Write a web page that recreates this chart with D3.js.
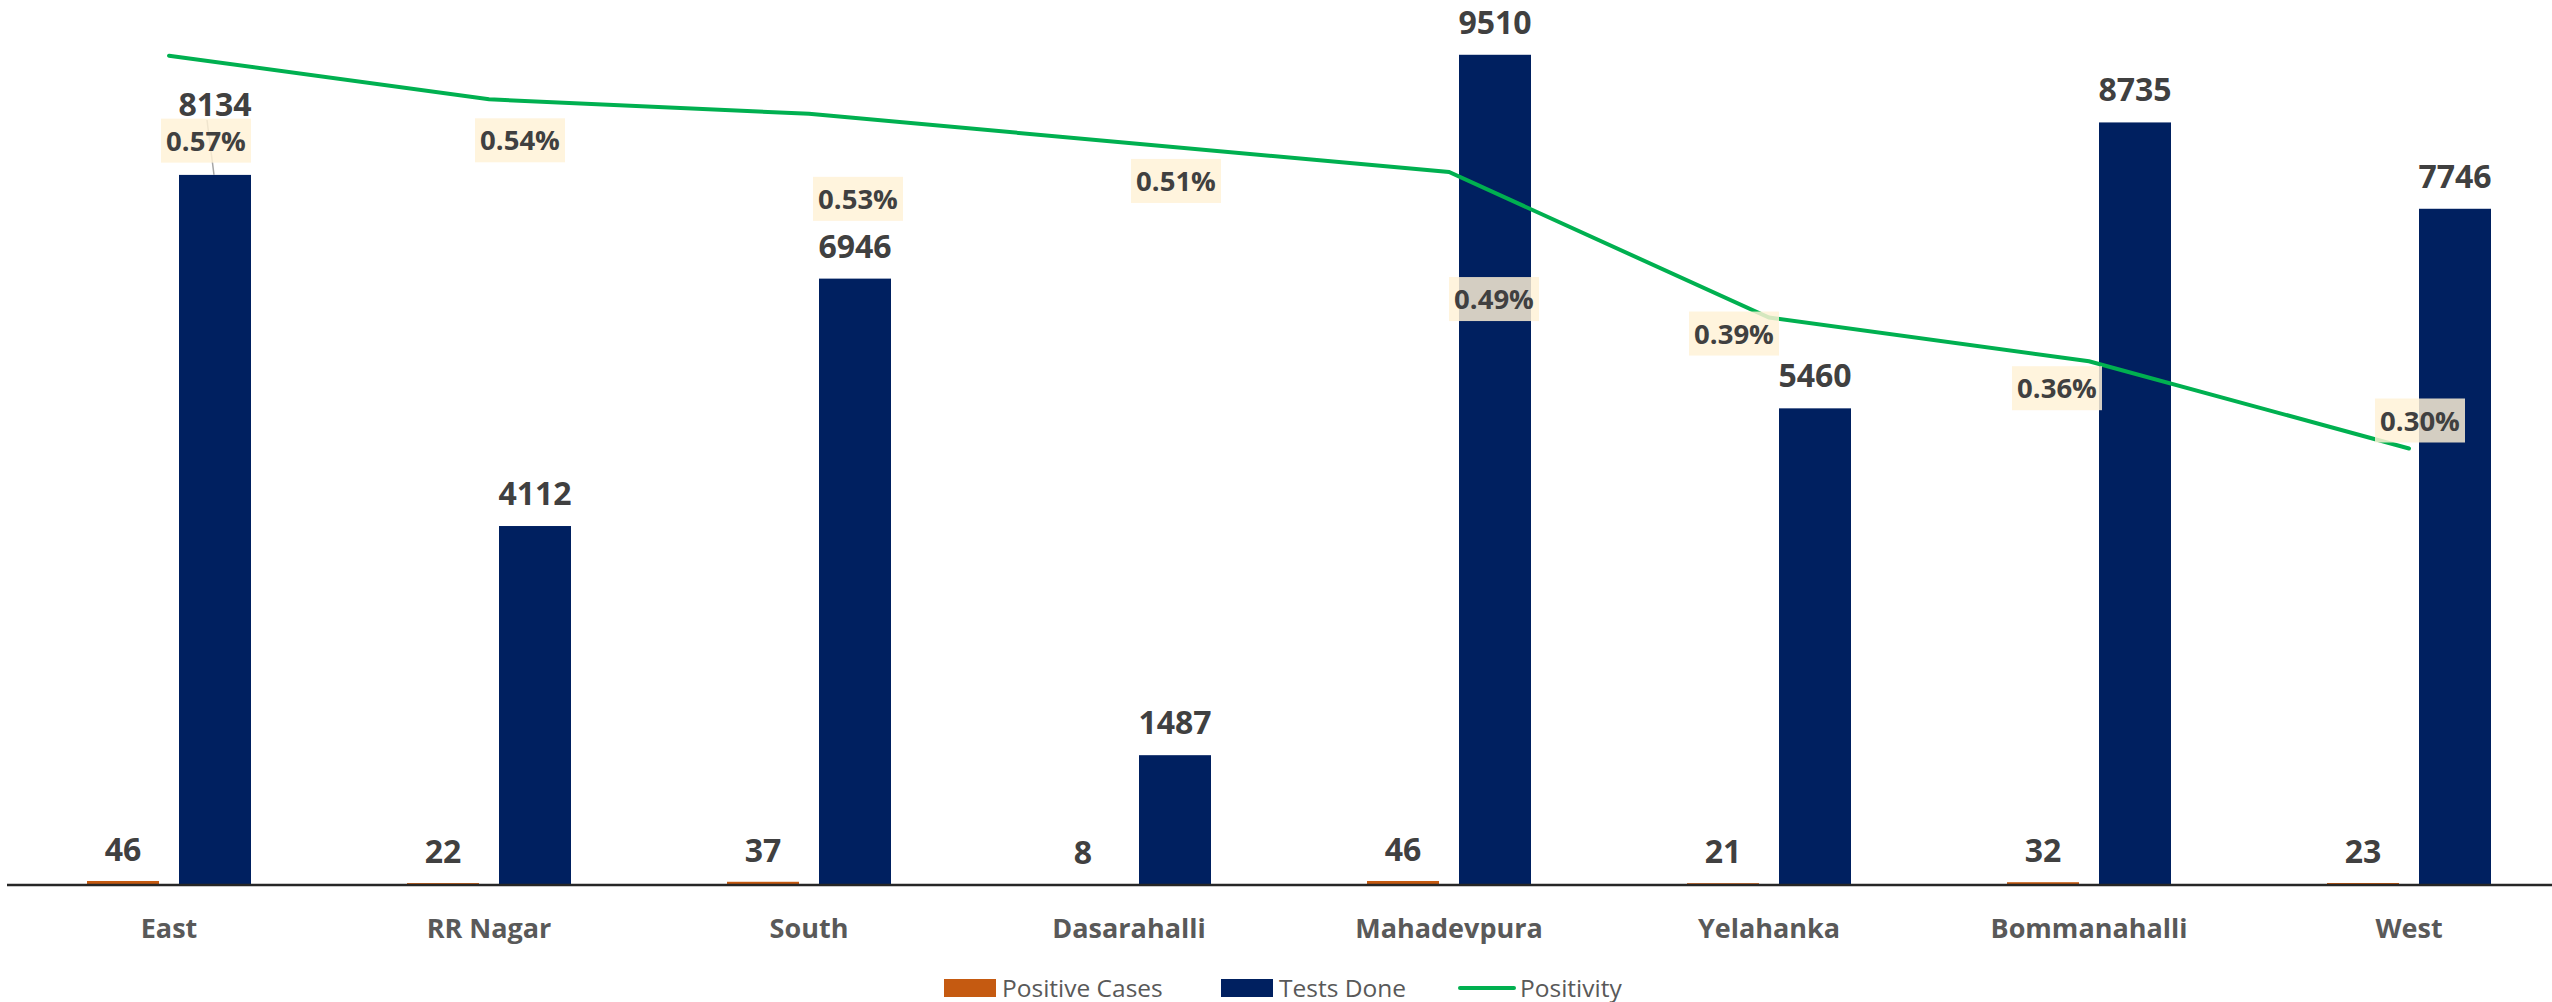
<!doctype html>
<html lang="en">
<head>
  <meta charset="utf-8">
  <title>Positivity by zone</title>
  <script src="https://d3js.org/d3.v7.min.js"></script>
  <style>
    body { margin: 0; background: #fff; }
    text { font-family: "Open Sans", "Noto Sans", sans-serif; }
  </style>
</head>
<body>
  <div id='my_chart'></div>
<script>
  var zones = ['East', 'RR Nagar', 'South', 'Dasarahalli', 'Mahadevpura', 'Yelahanka', 'Bommanahalli', 'West'];
  var positive_cases = [46, 22, 37, 8, 46, 21, 32, 23];
  var tests_done = [8134, 4112, 6946, 1487, 9510, 5460, 8735, 7746];
  var positivity = [0.57, 0.54, 0.53, 0.51, 0.49, 0.39, 0.36, 0.30]; // percent
  var series_names = ['Positive Cases', 'Tests Done', 'Positivity'];

  var width = 2552;
  var height = 1002;
  var base_y = 885;
  var top_y = 12;
  var colors = {pos: '#C55A11', tests: '#002060', line: '#00B050'};

  // where each positivity box sits, relative to its line point
  var pct_offsets = [[37, 85], [31, 41], [49, 85], [47, 38], [45, 127], [-35, 16], [-32, 27], [11, -28]];

  var x = d3.scaleBand().domain(zones).range([9, 2569]);
  var sub = d3.scaleBand().domain(['pos', 'tests']).range([-82, 82]).paddingInner(20 / 92);
  var y = d3.scaleLinear().domain([0, 10000]).range([base_y, top_y]);
  var y2 = d3.scaleLinear().domain([0, 0.6]).range([base_y, top_y]);
  var cx = d => x(d) + x.bandwidth() / 2;

  var chart = d3.select('#my_chart').append('svg')
    .attr('width', width)
    .attr('height', height)
    .style('background', '#fff');

  var rows = zones.map((z, i) => ({zone: z, pos: positive_cases[i], tests: tests_done[i], pct: positivity[i], i: i}));

  // bars
  var groups = chart.append('g').selectAll('g')
    .data(rows)
    .enter().append('g')
      .attr('transform', d => 'translate(' + cx(d.zone) + ',0)');

  groups.append('rect')
    .attr('x', sub('pos'))
    .attr('width', sub.bandwidth())
    .attr('y', d => y(d.pos))
    .attr('height', d => base_y - y(d.pos))
    .style('fill', colors.pos);

  groups.append('rect')
    .attr('x', sub('tests'))
    .attr('width', sub.bandwidth())
    .attr('y', d => y(d.tests))
    .attr('height', d => base_y - y(d.tests))
    .style('fill', colors.tests);

  // value labels
  groups.append('text')
    .attr('x', sub('pos') + sub.bandwidth() / 2)
    .attr('y', d => y(d.pos) - 20)
    .attr('text-anchor', 'middle')
    .style('font-size', '32px').style('font-weight', 700).style('fill', '#404040')
    .text(d => d.pos);

  // East tests label was dragged up in the original, with a leader line
  groups.filter(d => d.i == 0).append('line')
    .attr('x1', sub('tests') + 28).attr('y1', 120)
    .attr('x2', sub('tests') + 35).attr('y2', d => y(d.tests))
    .style('stroke', '#A6A6A6').style('stroke-width', 1.5);

  groups.append('text')
    .attr('x', sub('tests') + sub.bandwidth() / 2)
    .attr('y', d => d.i == 0 ? 116 : y(d.tests) - 21)
    .attr('text-anchor', 'middle')
    .style('font-size', '32px').style('font-weight', 700).style('fill', '#404040')
    .text(d => d.tests);

  // axis line
  chart.append('g')
    .attr('transform', 'translate(0,' + base_y + ')')
    .call(d3.axisBottom(x).tickSize(0).tickPadding(0))
    .call(g => g.select('.domain').attr('d', 'M7,0H2552').style('stroke', '#262626').style('stroke-width', 2.5))
    .call(g => g.selectAll('text')
      .attr('dy', 0).attr('y', 53)
      .style('font-family', '"Open Sans", sans-serif')
      .style('font-size', '27px').style('font-weight', 700).style('fill', '#595959'));

  // positivity line
  var line = d3.line().x(d => cx(d.zone)).y(d => y2(d.pct));
  chart.append('path')
    .datum(rows)
    .attr('d', line)
    .style('fill', 'none')
    .style('stroke', colors.line)
    .style('stroke-width', 4)
    .style('stroke-linecap', 'round');

  // positivity labels
  var pct = chart.append('g').selectAll('g')
    .data(rows)
    .enter().append('g')
      .attr('transform', d => 'translate(' + (cx(d.zone) + pct_offsets[d.i][0]) + ',' + (y2(d.pct) + pct_offsets[d.i][1]) + ')');
  pct.append('rect')
    .attr('x', -45).attr('y', -22).attr('width', 90).attr('height', 44)
    .style('fill', '#FFF2D6').style('opacity', 0.83);
  pct.append('text')
    .attr('text-anchor', 'middle')
    .attr('y', 10)
    .style('font-size', '27.5px').style('font-weight', 700).style('fill', '#404040')
    .text(d => d.pct.toFixed(2) + '%');

  // legend
  var legend = chart.append('g').attr('transform', 'translate(0,988)');
  var leg_x = [944, 1221, 1460];
  legend.append('rect').attr('x', leg_x[0]).attr('y', -9).attr('width', 52).attr('height', 18).style('fill', colors.pos);
  legend.append('rect').attr('x', leg_x[1]).attr('y', -9).attr('width', 52).attr('height', 18).style('fill', colors.tests);
  legend.append('line').attr('x1', leg_x[2]).attr('x2', leg_x[2] + 54).attr('y1', 0).attr('y2', 0)
    .style('stroke', colors.line).style('stroke-width', 4).style('stroke-linecap', 'round');
  legend.selectAll('text.leg')
    .data(series_names)
    .enter().append('text')
      .attr('class', 'leg')
      .attr('x', (d, i) => leg_x[i] + (i == 2 ? 60 : 58))
      .attr('y', 8.5)
      .style('font-size', '24.5px').style('fill', '#595959')
      .text(d => d);
</script>
</body>
</html>
